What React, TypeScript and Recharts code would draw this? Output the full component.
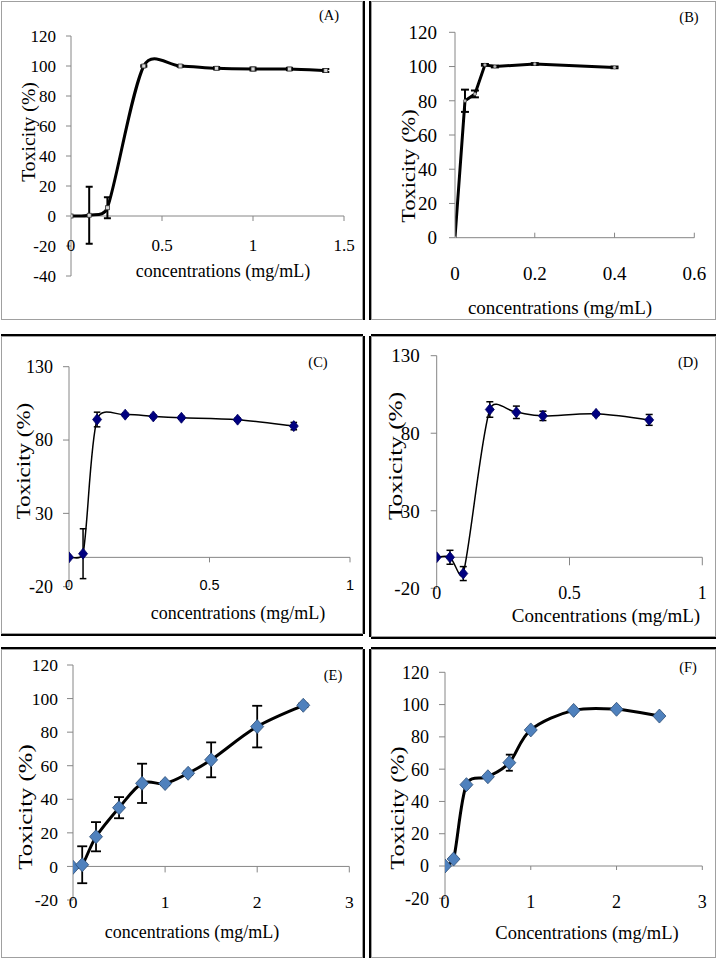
import React from "react";
import { LineChart, Line, XAxis, YAxis, ErrorBar, ReferenceLine } from "recharts";

const SERIF = '"Liberation Serif", "Times New Roman", serif';
const SANS = '"Liberation Sans", Arial, sans-serif';
const AXIS = "#868686";

const xTitleLower = "concentrations (mg/mL)";
const xTitleUpper = "Concentrations (mg/mL)";
const yTitle = "Toxicity (%)";

// (A)
const concA = [0, 0.1, 0.2, 0.4, 0.6, 0.8, 1.0, 1.2, 1.4];
const toxA = [0, 0.5, 5.5, 100, 100, 98.5, 98, 98, 97];
const errA = [0, 19, 7, 0.5, 0.5, 0.8, 1, 0.8, 1];
const xTicksA = [0, 0.5, 1, 1.5];
const yTicksA = [-40, -20, 0, 20, 40, 60, 80, 100, 120];

// (B)
const concB = [0, 0.025, 0.05, 0.075, 0.1, 0.2, 0.4];
const toxB = [0, 80, 84, 101, 100, 101.5, 99.5];
const errB = [0, 6.5, 2, 0.5, 0.5, 0.5, 0.5];
const xTicksB = [0, 0.2, 0.4, 0.6];
const yTicksB = [0, 20, 40, 60, 80, 100, 120];

// (C)
const concC = [0, 0.05, 0.1, 0.2, 0.3, 0.4, 0.6, 0.8];
const toxC = [0, 2.5, 94, 97.3, 96.1, 95.2, 93.9, 89.5];
const errC = [0, 17, 5, 1, 1, 1, 1, 2.5];
const xTicksC = [0, 0.5, 1];
const yTicksC = [-20, 30, 80, 130];

// (D)
const concD = [0, 0.05, 0.1, 0.2, 0.3, 0.4, 0.6, 0.8];
const toxD = [0, 0, -10.5, 95.3, 93.5, 91.2, 92.5, 88.6];
const errD = [0, 4.5, 4.5, 5, 4, 3, 1, 3.5];
const xTicksD = [0, 0.5, 1];
const yTicksD = [-20, 30, 80, 130];

// (E)
const concE = [0, 0.1, 0.25, 0.5, 0.75, 1, 1.25, 1.5, 2, 2.5];
const toxE = [-0.5, 1, 17.7, 35, 49.5, 49.4, 55.5, 63.5, 83.3, 96];
const errE = [0, 11, 8.7, 6.3, 11.7, 1, 1, 10.4, 12.4, 1];
const xTicksE = [0, 1, 2, 3];
const yTicksE = [-20, 0, 20, 40, 60, 80, 100, 120];

// (F)
const concF = [0, 0.1, 0.25, 0.5, 0.75, 1, 1.5, 2, 2.5];
const toxF = [0, 4.3, 50.4, 55.3, 64, 84.3, 96.4, 97.1, 92.9];
const errF = [0, 0, 0, 0, 5, 0, 0, 0, 0];
const xTicksF = [0, 1, 2, 3];
const yTicksF = [-20, 0, 20, 40, 60, 80, 100, 120];

const rows = (xs: number[], ys: number[], es: number[]) =>
  xs.map((x, i) => ({ x, y: ys[i], err: es[i] }));

// excel-like smoothed line: catmull-rom bezier, handles clamped to half the segment length
function excelSmooth(context: any) {
  let xs: number[] = [];
  let ys: number[] = [];
  return {
    areaStart() {},
    areaEnd() {},
    lineStart() {
      xs = [];
      ys = [];
    },
    lineEnd() {
      const n = xs.length;
      if (!n) return;
      const seg = (i: number) => Math.hypot(xs[i + 1] - xs[i], ys[i + 1] - ys[i]);
      const tx: number[] = [];
      const ty: number[] = [];
      for (let i = 0; i < n; i++) {
        const p = Math.max(i - 1, 0);
        const q = Math.min(i + 1, n - 1);
        tx.push((xs[q] - xs[p]) / 6);
        ty.push((ys[q] - ys[p]) / 6);
      }
      const clamp = (i: number, d: number) => {
        const len = Math.hypot(tx[i], ty[i]);
        return len > 0 ? Math.min(1, (0.5 * d) / len) : 0;
      };
      context.moveTo(xs[0], ys[0]);
      for (let i = 0; i < n - 1; i++) {
        const d = seg(i);
        const a = clamp(i, d);
        const b = clamp(i + 1, d);
        context.bezierCurveTo(
          xs[i] + tx[i] * a,
          ys[i] + ty[i] * a,
          xs[i + 1] - tx[i + 1] * b,
          ys[i + 1] - ty[i + 1] * b,
          xs[i + 1],
          ys[i + 1]
        );
      }
    },
    point(x: number, y: number) {
      xs.push(+x);
      ys.push(+y);
    },
  };
}

const panels = [
  {
    id: "(A)", data: rows(concA, toxA, errA), xTicks: xTicksA, yTicks: yTicksA,
    xDomain: [0, 1.5], yDomain: [-40, 120],
    box: { l: 1, t: 1, w: 362, h: 319 }, plot: { l: 71, t: 36, r: 344, b: 276 },
    shadow: "2px 0 0 #000",
    smooth: true, lineW: 3, marker: "square", capW: 3.5, errW: 2,
    yTickSize: 17, yTickLen: 5, yTickGap: 10,
    xTickFont: SERIF, xTickSize: 17, xLabelY: 245, xTickLen: 5,
    xTitle: xTitleLower, xTitlePos: [223, 271], xTitleSize: 18,
    yTitlePos: [28, 132], yTitleLen: 101, letterPos: [329, 15],
  },
  {
    id: "(B)", data: rows(concB, toxB, errB), xTicks: xTicksB, yTicks: yTicksB,
    xDomain: [0, 0.6], yDomain: [0, 120],
    box: { l: 371, t: 1, w: 345, h: 319 }, plot: { l: 455, t: 32.3, r: 694.3, b: 237.7 },
    shadow: "-2px 0 0 #000",
    smooth: false, lineW: 3, marker: "dot", capW: 4, errW: 2,
    yTickSize: 19, yTickLen: 6, yTickGap: 12,
    xTickFont: SERIF, xTickSize: 19, xLabelY: 273, xTickLen: -5,
    xTitle: xTitleLower, xTitlePos: [560, 307], xTitleSize: 19,
    yTitlePos: [408, 166], yTitleLen: 115, letterPos: [689, 17],
  },
  {
    id: "(C)", data: rows(concC, toxC, errC), xTicks: xTicksC, yTicks: yTicksC,
    xDomain: [0, 1], yDomain: [-20, 130],
    box: { l: 1, t: 336, w: 362, h: 298 }, plot: { l: 69, t: 366.7, r: 350, b: 586.7 },
    shadow: "0 -2px 0 #000, 2px 0 0 #000, 0 2px 0 #000",
    smooth: true, lineW: 1.5, marker: "navy", capW: 3.3, errW: 1.5,
    yTickSize: 18, yTickLen: 6, yTickGap: 10,
    xTickFont: SANS, xTickSize: 14.5, xLabelY: 585, xTickLen: 5,
    xTitle: xTitleLower, xTitlePos: [238, 613], xTitleSize: 18,
    yTitlePos: [23, 461], yTitleLen: 118, letterPos: [318, 362],
  },
  {
    id: "(D)", data: rows(concD, toxD, errD), xTicks: xTicksD, yTicks: yTicksD,
    xDomain: [0, 1], yDomain: [-20, 130],
    box: { l: 371, t: 336, w: 345, h: 301 }, plot: { l: 436.7, t: 355.7, r: 702.3, b: 588.3 },
    shadow: "0 -2px 0 #000, -2px 0 0 #000, 0 2px 0 #000",
    smooth: true, lineW: 1.5, marker: "navy", capW: 3.5, errW: 1.5,
    yTickSize: 19, yTickLen: 6, yTickGap: 11,
    xTickFont: SERIF, xTickSize: 18, xLabelY: 593, xTickLen: 8,
    xTitle: xTitleUpper, xTitlePos: [606, 615], xTitleSize: 19,
    yTitlePos: [395, 456], yTitleLen: 130, letterPos: [688, 362],
  },
  {
    id: "(E)", data: rows(concE, toxE, errE), xTicks: xTicksE, yTicks: yTicksE,
    xDomain: [0, 3], yDomain: [-20, 120],
    box: { l: 1, t: 649, w: 362, h: 309 }, plot: { l: 73, t: 665, r: 349.3, b: 900 },
    shadow: "0 -2px 0 #000, 2px 0 0 #000",
    smooth: true, lineW: 3, marker: "blue", capW: 5, errW: 1.8,
    yTickSize: 17.5, yTickLen: 6, yTickGap: 9,
    xTickFont: SERIF, xTickSize: 17.5, xLabelY: 901.7, xTickLen: 6,
    xTitle: xTitleLower, xTitlePos: [192, 932], xTitleSize: 18,
    yTitlePos: [25, 807], yTitleLen: 127, letterPos: [333, 675],
  },
  {
    id: "(F)", data: rows(concF, toxF, errF), xTicks: xTicksF, yTicks: yTicksF,
    xDomain: [0, 3], yDomain: [-20, 120],
    box: { l: 371, t: 649, w: 345, h: 309 }, plot: { l: 445, t: 672.3, r: 702.3, b: 898.3 },
    shadow: "0 -2px 0 #000, -2px 0 0 #000",
    smooth: true, lineW: 3, marker: "blue", capW: 3.5, errW: 1.8,
    yTickSize: 18, yTickLen: 6, yTickGap: 10,
    xTickFont: SERIF, xTickSize: 18, xLabelY: 901.7, xTickLen: 4,
    xTitle: xTitleUpper, xTitlePos: [587, 933], xTitleSize: 18.5,
    yTitlePos: [397, 808], yTitleLen: 125, letterPos: [688, 667],
  },
];

function Marker({ cx, cy, kind }: any) {
  if (cx == null || cy == null) return null;
  if (kind === "square")
    return <rect x={cx - 2} y={cy - 2} width={4} height={4} fill="#d9d9d9" stroke="#333" strokeWidth={0.8} />;
  if (kind === "dot")
    return <circle cx={cx} cy={cy} r={1.6} fill="#bbb" stroke="#555" strokeWidth={0.5} />;
  const hw = kind === "navy" ? 4.5 : 6.5;
  const hh = kind === "navy" ? 5.5 : 7;
  const fill = kind === "navy" ? "#000080" : "#4f81bd";
  const stroke = kind === "navy" ? "#000060" : "#2c4d75";
  return (
    <polygon
      points={`${cx},${cy - hh} ${cx + hw},${cy} ${cx},${cy + hh} ${cx - hw},${cy}`}
      fill={fill}
      stroke={stroke}
      strokeWidth={0.8}
    />
  );
}

function Panel({ p }: { p: any }) {
  const { box, plot } = p;
  const yw = 60;
  const xh = 20;
  const margin = {
    top: plot.t - box.t,
    right: box.l + box.w - plot.r,
    bottom: box.t + box.h - plot.b - xh,
    left: plot.l - box.l - yw,
  };
  const [y0, y1] = p.yDomain;
  const axisY = plot.t - box.t + (y1 / (y1 - y0)) * (plot.b - plot.t);
  const labelY = p.xLabelY - box.t;

  const xTick = (t: any) => (
    <g key={`xt-${t.index}`}>
      {t.payload.value !== 0 && (
        <line x1={t.x} x2={t.x} y1={axisY} y2={axisY + p.xTickLen} stroke={AXIS} strokeWidth={1} />
      )}
      <text x={t.x} y={labelY} textAnchor="middle" dominantBaseline="central" fontFamily={p.xTickFont} fontSize={p.xTickSize} fill="#000">
        {String(t.payload.value)}
      </text>
    </g>
  );

  const text: React.CSSProperties = {
    position: "absolute",
    fontFamily: SERIF,
    color: "#000",
    whiteSpace: "nowrap",
    lineHeight: 1,
  };
  const yTitleScale = p.yTitleLen / (5.138 * 19);

  return (
    <>
      <div
        style={{
          position: "absolute",
          left: box.l,
          top: box.t,
          width: box.w,
          height: box.h,
          boxSizing: "border-box",
          border: "1px solid #a0a0a0",
          boxShadow: p.shadow,
          background: "#fff",
        }}
      />
      <div style={{ position: "absolute", left: box.l, top: box.t }}>
        <LineChart width={box.w} height={box.h} data={p.data} margin={margin}>
          <XAxis
            dataKey="x"
            type="number"
            domain={p.xDomain}
            ticks={p.xTicks}
            interval={0}
            height={xh}
            axisLine={false}
            tickLine={false}
            tick={xTick}
            allowDataOverflow
          />
          <YAxis
            type="number"
            domain={p.yDomain}
            ticks={p.yTicks}
            interval={0}
            width={yw}
            axisLine={{ stroke: AXIS }}
            tickLine={{ stroke: AXIS }}
            tickSize={p.yTickLen}
            tickMargin={p.yTickGap}
            tick={{ fill: "#000", fontSize: p.yTickSize, fontFamily: SERIF }}
            allowDataOverflow
          />
          <ReferenceLine y={0} stroke={AXIS} strokeWidth={1} />
          <Line
            dataKey="y"
            type={p.smooth ? (excelSmooth as any) : "linear"}
            stroke="#000"
            strokeWidth={p.lineW}
            dot={(d: any) => <Marker key={`m-${d.index}`} cx={d.cx} cy={d.cy} kind={p.marker} />}
            activeDot={false}
            isAnimationActive={false}
          >
            <ErrorBar dataKey="err" direction="y" width={p.capW} stroke="#000" strokeWidth={p.errW} isAnimationActive={false} />
          </Line>
        </LineChart>
      </div>
      <div
        style={{
          ...text,
          left: p.xTitlePos[0],
          top: p.xTitlePos[1],
          fontSize: p.xTitleSize,
          transform: "translate(-50%, -50%)",
        }}
      >
        {p.xTitle}
      </div>
      <div
        style={{
          ...text,
          left: p.yTitlePos[0],
          top: p.yTitlePos[1],
          fontSize: 19,
          transform: `translate(-50%, -50%) rotate(-90deg) scaleX(${yTitleScale})`,
        }}
      >
        {yTitle}
      </div>
      <div
        style={{
          ...text,
          left: p.letterPos[0],
          top: p.letterPos[1],
          fontSize: 14.5,
          transform: "translate(-50%, -50%)",
        }}
      >
        {p.id}
      </div>
    </>
  );
}

export default function App() {
  return (
    <div style={{ position: "absolute", left: 0, top: 0, width: 720, height: 960, background: "#fff", overflow: "hidden" }}>
      {panels.map((p) => (
        <Panel key={p.id} p={p} />
      ))}
    </div>
  );
}
